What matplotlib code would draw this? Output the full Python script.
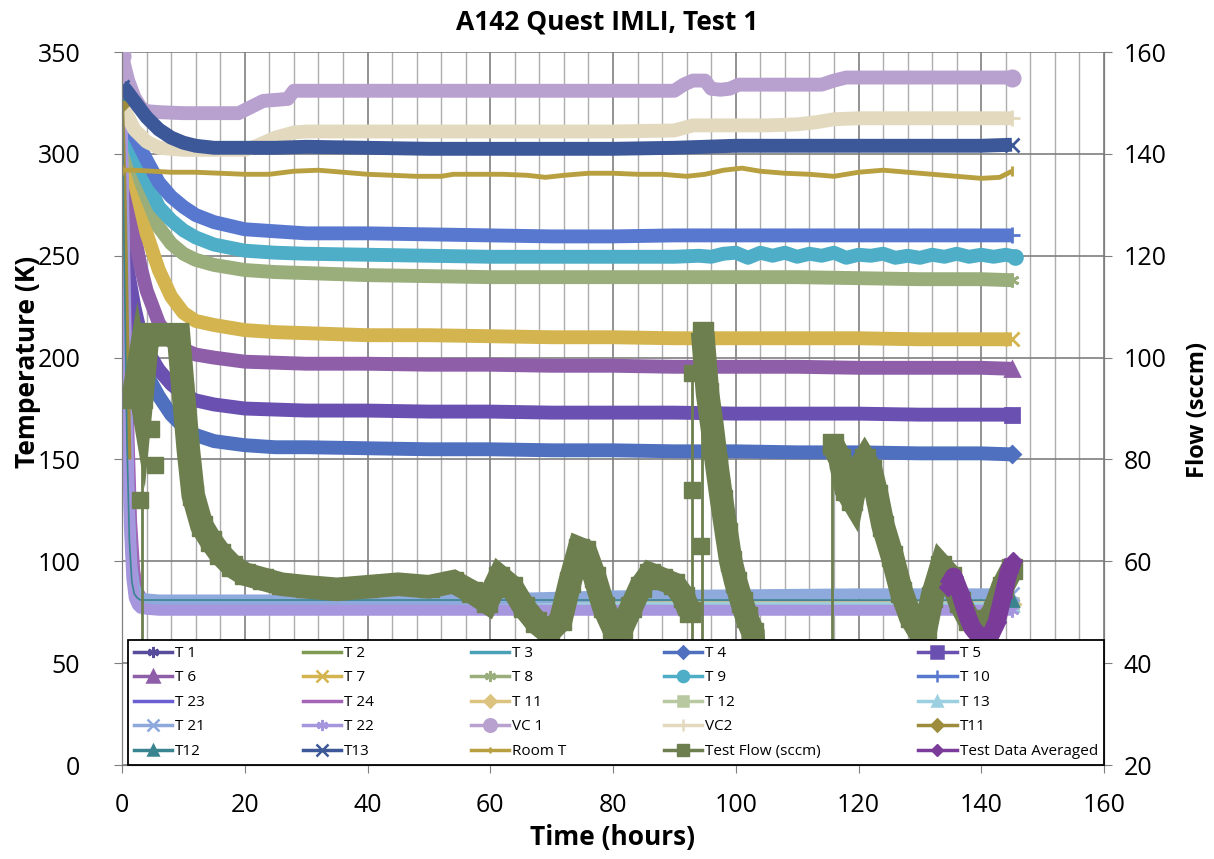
import numpy as np
import matplotlib.pyplot as plt
from matplotlib.lines import Line2D

plt.rcParams['font.family'] = ['Open Sans', 'DejaVu Sans']

# ---- data ----
# fast-cooling sensors (drop to ~80 K in the first hours)
TIME_FAST = [0, 0.4, 0.8, 1.2, 1.6, 2.0, 2.5, 3.0, 4.0, 6, 10, 20, 40, 60, 80, 100, 120, 140, 145]
T1_V = [328, 290, 235, 175, 130, 104, 90, 84, 81, 80, 79.5, 79.5, 79.5, 79.5, 79.5, 79.5, 79.5, 79.5, 79.5]
T2_V = [325, 280, 220, 165, 122, 98, 86, 82, 80, 79, 79, 79, 79, 79, 79, 79, 79, 79, 79]
T3_V = [326, 262, 195, 138, 104, 90, 83, 80, 79, 78.5, 78.5, 78.5, 78.5, 78.5, 78.5, 78.5, 78.5, 78.5, 78.5]
T23_V = [327, 295, 250, 190, 140, 110, 92, 85, 81, 80, 79.5, 79.5, 79.5, 79.5, 79.5, 79.5, 79.5, 79.5, 79.5]
T24_V = [324, 300, 262, 210, 160, 120, 96, 86, 81, 80, 79.5, 79.5, 79.5, 79.5, 79.5, 79.5, 79.5, 79.5, 79.5]
T11_V = [322, 275, 215, 158, 118, 96, 86, 82, 80, 79, 79, 79, 79, 79, 79, 79, 79, 79, 79]
T12_V = [321, 270, 205, 150, 112, 93, 85, 81, 79.5, 79, 79, 79, 79, 79, 79, 79, 79, 79, 79]
T13_V = [323, 255, 185, 130, 100, 88, 82, 80, 79, 78.5, 78.5, 78.5, 78.5, 78.5, 78.5, 78.5, 78.5, 78.5, 78.5]
T21_V = [322, 250, 180, 125, 98, 88, 84, 82, 81.5, 81, 81, 81, 81, 81.5, 83, 83.5, 84, 84, 84]
T22_V = [318, 240, 170, 118, 92, 82, 78.5, 77, 76.5, 76, 76, 76, 76, 76, 76, 76, 76, 76, 76]
T12B_V = [330, 240, 160, 110, 90, 84, 82, 81, 81, 81, 81, 81, 81, 81, 81, 81, 81, 81, 81]

TIME_SHORT = [0, 0.2, 0.4, 0.6, 0.8, 1.0, 1.2]
T11B_V = [325, 305, 280, 250, 215, 180, 150]

# slow-cooling sensors
TIME_SLOW = [0, 0.5, 1, 2, 3, 4, 6, 8, 10, 12, 15, 20, 25, 30, 40, 50, 60, 70, 80, 90,
             100, 110, 120, 130, 140, 145]
T4_V = [315, 270, 240, 215, 200, 192, 181, 172, 166, 162, 159, 157, 156, 156, 155.5, 155,
        155, 154.5, 154.5, 154, 154, 153.5, 153.5, 153, 153, 152.5]
T5_V = [318, 280, 242, 225, 212, 204, 194, 187, 182, 179, 177, 175, 174.5, 174, 174, 173.5,
        173.5, 173, 173, 173, 172.5, 172.5, 172.5, 172, 172, 172]
T6_V = [320, 305, 290, 261, 245, 233, 217, 208, 204, 201.5, 200, 198, 197.5, 197, 197, 196.5,
        196.5, 196, 196, 195.5, 195.5, 195.5, 195, 195, 195, 194.5]
T7_V = [322, 314, 305, 287, 274, 261, 243, 230, 222, 218, 216, 213.5, 212.5, 212, 211, 211,
        210.5, 210, 210, 209.5, 209.5, 209.5, 209.5, 209, 209, 209]
T8_V = [320, 314, 308, 297, 287, 279, 264, 256, 251, 248, 245.5, 243, 242, 241.5, 240.5, 240,
        239.5, 239.5, 239.5, 239.5, 239.5, 239.5, 239, 238.5, 238.5, 238]
T10_V = [322, 319, 316, 309, 303, 297, 286, 279, 274, 270, 266.5, 263, 262, 261, 261, 260.5,
         260, 259.5, 259.5, 260, 260, 260, 260, 260, 260, 260]
T13B_V = [333, 332, 330, 326, 322, 318, 312, 308, 305.5, 304, 303, 303, 303, 303.5, 303, 302.5,
          302.5, 302.5, 302.5, 303, 304, 304, 304, 304, 304, 304.5]

T9_T = [0, 1, 2, 3, 4, 6, 8, 10, 12, 15, 20, 25, 30, 40, 50, 60, 70, 80, 90, 94,
        96, 98, 100, 102, 104, 106, 108, 110, 112, 114, 116, 118, 120, 122, 124, 126, 128, 130,
        132, 134, 136, 138, 140, 142, 144, 145.5]
T9_V = [320, 312, 303, 294, 287, 274, 267.5, 262.5, 259, 255.5, 252.5, 251.5, 251, 250.5, 250,
        249.5, 249.5, 249.5, 249.5, 250, 249.5, 251, 251.5, 249, 251.5, 250, 251.5, 249.5, 251,
        250, 251.5, 249, 250.5, 250, 251, 249, 250, 249, 250.5, 249.5, 251, 249.5, 250.5, 249.5,
        250.5, 249.5]

VC1_T = [0, 0.5, 1, 2, 3, 4, 6, 10, 15, 19, 21, 23, 25, 27, 28, 30, 40, 60, 80, 90, 91.5, 93,
         95, 96, 97.5, 99, 100.5, 105, 110, 114, 116, 118, 125, 135, 145]
VC1_V = [348, 342, 336, 328, 323, 321, 320.5, 320, 320, 320, 323, 326, 326.5, 327, 331, 331, 331,
         331, 331, 331, 334, 336, 336, 332, 331.5, 332, 334, 334, 334, 334, 336, 337.5, 337.5,
         337.5, 337.5]

VC2_T = [0, 1, 2, 4, 6, 10, 15, 20, 22, 25, 28, 30, 40, 60, 80, 90, 93, 96, 100, 105, 110, 113,
         116, 120, 130, 140, 145]
VC2_V = [326, 318, 312, 306, 303, 302, 302, 302, 304, 308, 310.5, 311, 311, 311, 311, 311.5, 314,
         314, 314, 314, 314.5, 315.5, 317, 317.5, 317.5, 317.5, 317.5]

ROOM_T = [0, 2, 5, 8, 12, 16, 20, 24, 28, 32, 36, 40, 44, 48, 52, 54, 58, 62, 66, 69, 72, 76, 80,
          84, 88, 92, 95, 98, 101, 104, 108, 112, 116, 120, 124, 128, 132, 136, 140, 143, 145]
ROOM_V = [292, 292, 291.5, 291, 291, 290.5, 290, 290, 291.5, 292, 291, 290, 289.5, 289, 289, 290,
          290, 290, 289.5, 288.5, 289.5, 290.5, 290.5, 290, 290, 289, 290, 292, 293, 291.5, 290.5,
          290, 289, 291, 292, 291, 290, 289, 288, 288.5, 291.5]

# test flow (right axis), three continuous runs
FLOW_T1 = [1.8, 2.5, 3.2, 4.2, 6.5, 9.2, 10.0, 10.8, 11.6, 13.0, 14.5, 16, 18, 20, 23, 26, 30, 35,
           40, 45, 50, 54, 57, 59.5, 61.5, 63.5, 65.5, 67.5, 69.5, 71.5, 73, 74.5, 75.5, 77, 78.5,
           80, 81.5, 83, 84.5, 86, 88, 90, 91.5, 92.5]
FLOW_V1 = [92, 97, 92, 104.5, 104.5, 104.5, 93, 82, 73, 67, 64, 61.5, 59, 57.5, 56.5, 55.5, 55,
           54.5, 55, 55.5, 55, 56, 54, 52, 57, 55, 51, 48, 46, 48.5, 56, 62.5, 62, 57, 51, 47, 47,
           51, 55, 57.5, 56.5, 55.5, 53, 50]
FLOW_T2 = [94.6, 95.4, 96.2, 96.9, 97.7, 98.5, 99.2, 100, 101, 101.8, 102.8, 103.8, 106, 110, 114]
FLOW_V2 = [105, 93, 86, 79, 72, 65.5, 60, 56, 52, 49, 46, 21, 22, 30, 40]
FLOW_T3 = [115.8, 117, 118, 119, 120, 121, 122, 123, 124, 125.5, 127, 128.5, 130, 131, 132, 133.5,
           135, 136.5, 138, 140, 142, 143.5, 145]
FLOW_V3 = [83, 80, 74, 72, 78, 80, 78, 73, 67, 61, 54, 49, 46, 47, 53, 59, 57, 52, 48.5, 47, 50,
           55, 58.5]
FLOW_DROP_T = [3.3, 92.9, 94.5, 115.6]
FLOW_DROP_TOP = [104, 97, 105, 83]
FLOW_DOT_T = [2.9, 4.8, 5.3, 92.9, 92.9, 94.4]
FLOW_DOT_V = [72, 86, 79, 97, 74, 63]

AVG_T = [134.5, 135.5, 136.5, 137.5, 138.5, 139.5, 140.5, 141.5, 142.5, 143.5, 144.5, 145.2]
AVG_V = [55, 57, 54, 50, 47, 45.5, 45, 45.5, 48, 53, 58, 60]

# ---- styles (plot order = Excel series order) ----
# label: (time, values, color, marker, marker size, line width)
SERIES = [
    ("T 1", TIME_FAST, T1_V, "#574b9b", (6, 2, 0), 8, 4),
    ("T 2", TIME_FAST, T2_V, "#7f9a52", "_", 8, 4),
    ("T 3", TIME_FAST, T3_V, "#4aa0b4", "_", 8, 4),
    ("T 4", TIME_SLOW, T4_V, "#4f6fbf", "D", 6, 10),
    ("T 5", TIME_SLOW, T5_V, "#6a50b0", "s", 8, 10),
    ("T 6", TIME_SLOW, T6_V, "#8e5fa8", "^", 8, 10),
    ("T 7", TIME_SLOW, T7_V, "#d4b44e", "x", 8, 10),
    ("T 8", TIME_SLOW, T8_V, "#9aae7c", (6, 2, 0), 8, 10),
    ("T 9", T9_T, T9_V, "#4eaec8", "o", 8, 10),
    ("T 10", TIME_SLOW, T10_V, "#5878d0", "+", 9, 10),
    ("T 23", TIME_FAST, T23_V, "#6a5fd2", None, 0, 4),
    ("T 24", TIME_FAST, T24_V, "#a464b8", None, 0, 4),
    ("T 11", TIME_FAST, T11_V, "#dcc480", "D", 6, 4),
    ("T 12", TIME_FAST, T12_V, "#b8c8a0", "s", 7, 4),
    ("T 13", TIME_FAST, T13_V, "#9ccfe0", "^", 7, 4),
    ("T 21", TIME_FAST, T21_V, "#8eaadc", "x", 8, 8),
    ("T 22", TIME_FAST, T22_V, "#a596de", (6, 2, 0), 8, 8),
    ("VC 1", VC1_T, VC1_V, "#b8a0cf", "o", 9, 10),
    ("VC2", VC2_T, VC2_V, "#e2d9bf", "+", 9, 10),
    ("T11", TIME_SHORT, T11B_V, "#9c8c3c", "D", 6, 3),
    ("T12", TIME_FAST, T12B_V, "#3a8490", "^", 7, 1.2),
    ("T13", TIME_SLOW, T13B_V, "#3d5898", "x", 8, 10),
    ("Room T", ROOM_T, ROOM_V, "#b8a040", "|", 5, 3.5),
]
FLOW_COLOR = "#6d7f4f"
AVG_COLOR = "#7b3c99"

fig = plt.figure(figsize=(12.14, 8.59), dpi=100)
ax = fig.add_axes([0.1005, 0.1094, 0.8089, 0.8300])

for name, t, v, color, marker, ms, lw in SERIES:
    ends = [0, len(t) - 1] if len(t) > 10 else [0]
    ax.plot(t, v, color=color, lw=lw, solid_capstyle="butt", solid_joinstyle="round",
            marker=marker, ms=ms + 2 if marker else 0, mew=2, markevery=ends)

ax.set_xlim(0, 160)
ax.set_ylim(0, 350)
ax.set_xticks(range(0, 161, 20))
ax.set_xticks(np.arange(0, 161, 4), minor=True)
ax.set_yticks(range(0, 351, 50))
ax.set_axisbelow(True)
ax.grid(axis="x", which="minor", color="#adadad", lw=1.0)
ax.grid(axis="x", which="major", color="#7f7f7f", lw=1.2)
ax.grid(axis="y", which="major", color="#7f7f7f", lw=1.2)
ax.tick_params(which="minor", length=0)
ax.tick_params(which="major", length=6, color="#7f7f7f", labelsize=18)
ax.tick_params(axis="x", pad=14)
ax.tick_params(axis="y", pad=24)
for sp in ["left", "bottom", "right"]:
    ax.spines[sp].set_color("#7f7f7f")
ax.spines["top"].set_visible(False)

ax2 = ax.twinx()
ax2.set_ylim(20, 160)
ax2.set_yticks(range(20, 161, 20))
ax2.tick_params(length=6, color="#7f7f7f", labelsize=18, pad=8)
for sp in ax2.spines.values():
    sp.set_color("#7f7f7f")
ax2.spines["top"].set_visible(False)

flow_kw = dict(color=FLOW_COLOR, lw=17, solid_capstyle="butt", solid_joinstyle="miter")
ax2.plot(FLOW_T1, FLOW_V1, marker="s", ms=14, **flow_kw)
ax2.plot(FLOW_T2, FLOW_V2, marker="s", ms=14, **flow_kw)
ax2.plot(FLOW_T3, FLOW_V3, marker="s", ms=14, **flow_kw)
ax2.vlines(FLOW_DROP_T, 0, FLOW_DROP_TOP, color=FLOW_COLOR, lw=2)
ax2.plot(FLOW_DOT_T, FLOW_DOT_V, ls="none", marker="s", ms=12, color=FLOW_COLOR)
ax2.plot(AVG_T, AVG_V, color=AVG_COLOR, lw=13, marker="D", ms=9,
         solid_capstyle="butt", solid_joinstyle="round")

# legend, filled row by row like the original
handles = []
for name, t, v, color, marker, ms, lw in SERIES:
    handles.append(Line2D([], [], color=color, lw=2.5, marker=marker, ms=ms, mew=1.8))
handles.append(Line2D([], [], color=FLOW_COLOR, lw=2.5, marker="s", ms=9))
handles.append(Line2D([], [], color=AVG_COLOR, lw=2.5, marker="D", ms=6))
labels = [s[0] for s in SERIES] + ["Test Flow (sccm)", "Test Data Averaged"]
order = [r * 5 + c for c in range(5) for r in range(5)]
leg = ax2.legend([handles[i] for i in order], [labels[i] for i in order],
                 ncol=5, loc="lower left", bbox_to_anchor=(0.006, 0.0, 0.994, 0.18),
                 mode="expand", borderaxespad=0, fontsize=11, handlelength=2.5,
                 handletextpad=0.2, labelspacing=0.62, borderpad=0.4,
                 fancybox=False, framealpha=1, edgecolor="black")
leg.get_frame().set_linewidth(1.3)

fig.text(607 / 1214, 1 - 22 / 859, "A142 Quest IMLI, Test 1", ha="center", va="center",
         fontsize=19, fontweight="bold")
fig.text(613 / 1214, 1 - 838 / 859, "Time (hours)", ha="center", va="center",
         fontsize=19, fontweight="bold")
fig.text(28 / 1214, 1 - 362 / 859, "Temperature (K)", ha="center", va="center",
         rotation=90, fontsize=19, fontweight="bold")
fig.text(1198 / 1214, 1 - 410 / 859, "Flow (sccm)", ha="center", va="center",
         rotation=90, fontsize=17, fontweight="bold")

fig.savefig("out.png", dpi=100)
